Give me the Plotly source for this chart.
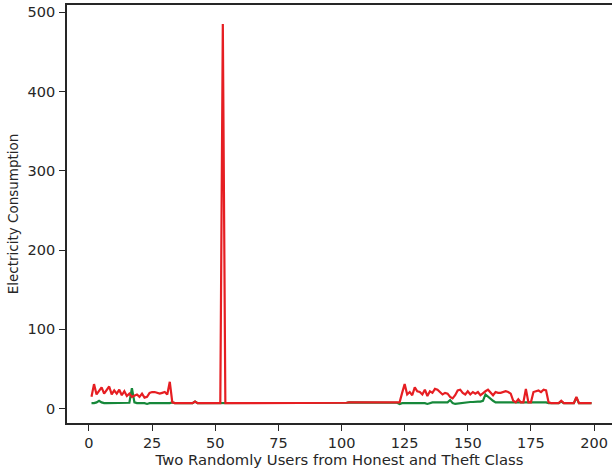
import plotly.graph_objects as go

# Daily consumption readings, days 1..199
days = list(range(1, 200))

honest_user = [
    7, 7, 8, 10, 8, 7, 7, 7, 7, 7,
    7, 7, 7, 7, 7, 7.5, 26, 8, 7, 7,
    7, 7, 6, 7, 7, 7, 7, 7, 7, 7,
    7, 7, 8, 7, 7, 7, 7, 7, 6.5, 7,
    7, 9, 7, 7, 7, 7, 7, 7, 7, 7,
    7, 7, 7, 7, 7, 7, 7, 7, 7, 7,
    7, 7, 7, 7, 7, 7, 7, 7, 7, 7,
    7, 7, 7.5, 7, 7, 7, 7, 7, 7, 7,
    7, 7, 7, 7, 7, 7, 7, 7, 7, 7,
    7, 7, 7, 7, 7, 7, 7.5, 7.5, 7.5, 7.5,
    7.5, 7.5, 8, 8, 8, 8, 8, 8, 8, 8,
    8, 8, 8, 7.5, 7.5, 8, 8, 7.5, 7.5, 7.5,
    7.5, 7.5, 6, 7, 7, 7, 7, 7, 7, 7,
    7, 7, 7, 6, 7, 8, 8, 8, 8, 8,
    8, 8, 11, 7, 6, 6.5, 7, 7.5, 8, 8,
    8.5, 8.5, 9, 9, 9, 10, 18, 15, 12, 10,
    8, 8, 8, 8, 8, 8, 8, 8, 8, 8,
    8, 8, 8, 8, 8, 8, 8, 8, 8, 8,
    8, 7, 7, 7, 7, 7, 9, 7, 7, 7,
    7, 7, 14, 7, 7, 7, 7, 7, 7,
]

theft_user = [
    15, 31, 18, 22, 27, 19, 24, 28, 18, 23,
    19, 24, 17, 22, 16, 19, 15, 16, 18, 15,
    19, 14, 15, 20, 21, 21, 20, 19, 20, 21,
    18, 34, 8, 7, 7, 7, 7, 7, 6.5, 7,
    7, 9, 7, 7, 7, 7, 7, 7, 7, 7,
    7, 7, 485, 7, 7, 7, 7, 7, 7, 7,
    7, 7, 7, 7, 7, 7, 7, 7, 7, 7,
    7, 7, 7.5, 7, 7, 7, 7, 7, 7, 7,
    7, 7, 7, 7, 7, 7, 7, 7, 7, 7,
    7, 7, 7, 7, 7, 7, 7.5, 7.5, 7.5, 7.5,
    7.5, 7.5, 8, 8, 8, 8, 8, 8, 8, 8,
    8, 8, 8, 7.5, 7.5, 8, 8, 7.5, 7.5, 7.5,
    7.5, 7.5, 8, 20, 31, 18, 21, 17, 27, 22,
    21, 18, 24, 16, 22, 20, 25, 24, 21, 18,
    20, 19, 15, 13, 17, 23, 24, 20, 18, 22,
    18, 21, 19, 21, 17, 20, 22, 24, 20, 17,
    21, 20, 20, 21, 22, 21, 19, 10, 8, 12,
    8, 8, 25, 8, 8, 21, 22, 23, 21, 24,
    23, 8, 7, 7, 7, 7, 10, 7, 7, 7,
    7, 7, 15, 7, 7, 7, 7, 7, 7,
]

x_ticks = [0, 25, 50, 75, 100, 125, 150, 175, 200]
y_ticks = [0, 100, 200, 300, 400, 500]

ink = "#262626"
tick_font = dict(family="DejaVu Sans", size=14.5, color=ink)

fig = go.Figure()
fig.add_trace(go.Scatter(x=days, y=honest_user, mode="lines",
                         line=dict(color="#16883a", width=2.2), name="Honest"))
fig.add_trace(go.Scatter(x=days, y=theft_user, mode="lines",
                         line=dict(color="#e61e22", width=2.2), name="Theft"))

fig.update_layout(
    width=612, height=471,
    margin=dict(l=67, r=0, t=5, b=48),
    paper_bgcolor="white", plot_bgcolor="white",
    showlegend=False,
    font=tick_font,
    xaxis=dict(
        range=[-8.7, 207.1], tickvals=x_ticks, ticks="outside", ticklen=6,
        tickwidth=1.3, tickcolor=ink, showline=True, linecolor=ink,
        linewidth=1.6, mirror=True, showgrid=False, zeroline=False,
        tickfont=tick_font,
        title=dict(text="Two Randomly Users from Honest and Theft Class",
                   font=dict(family="DejaVu Sans", size=14.8, color=ink),
                   standoff=2),
    ),
    yaxis=dict(
        range=[-18, 509], tickvals=y_ticks, ticks="outside", ticklen=6,
        tickwidth=1.3, tickcolor=ink, showline=True, linecolor=ink,
        linewidth=1.6, showgrid=False, zeroline=False,
        tickfont=tick_font, ticklabelstandoff=1,
        title=dict(text="Electricity Consumption",
                   font=dict(family="DejaVu Sans", size=13.5, color=ink),
                   standoff=6),
    ),
)

fig.write_html("out.html")
